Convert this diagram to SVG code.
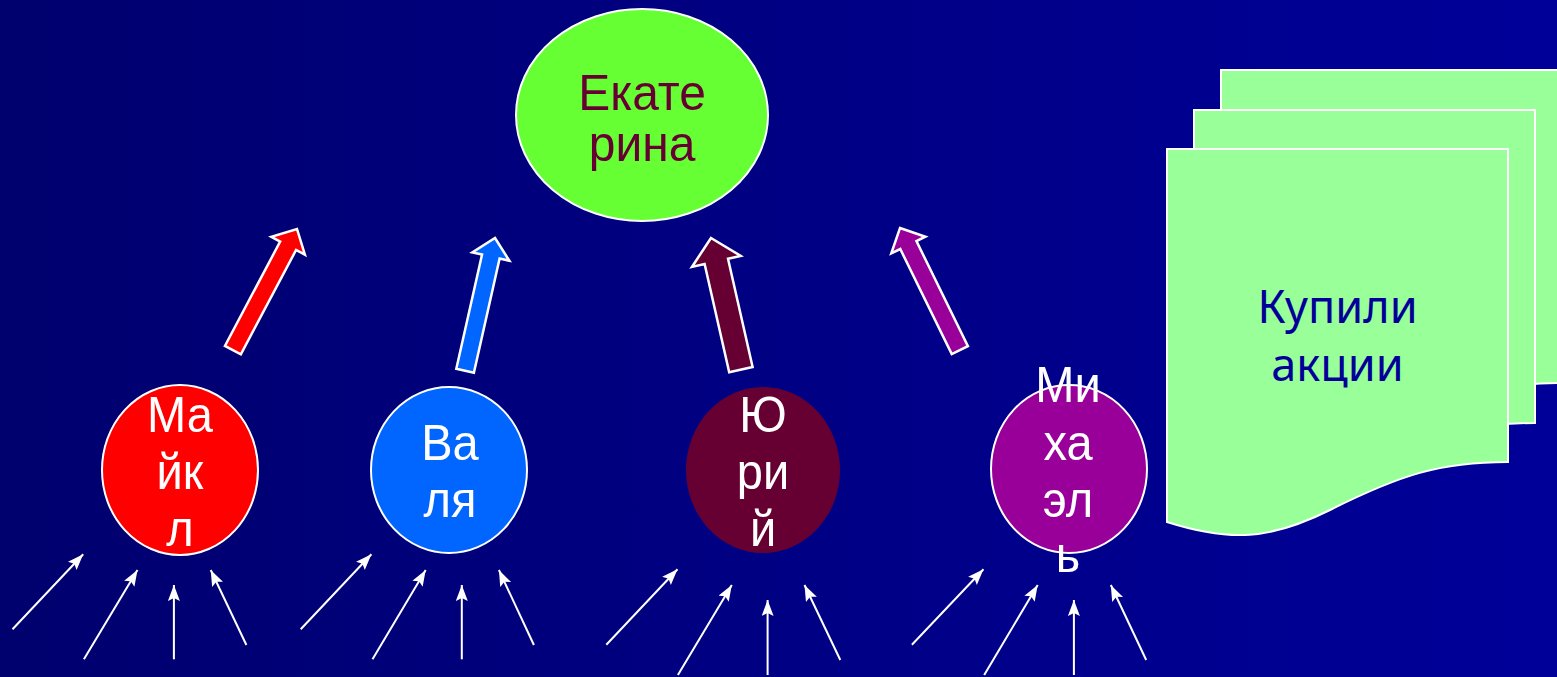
<svg xmlns="http://www.w3.org/2000/svg" width="1557" height="677" viewBox="0 0 1557 677">
<defs>
<linearGradient id="bg" x1="0" y1="0" x2="1" y2="0">
<stop offset="0" stop-color="#00006E"/>
<stop offset="1" stop-color="#000099"/>
</linearGradient>
<marker id="ah" markerUnits="userSpaceOnUse" markerWidth="18" markerHeight="14" refX="16" refY="6" orient="auto">
<path d="M0,0 L16,6 L0,12 L3,6 z" fill="#FFFFFF"/>
</marker>
<path id="doc" d="M1167,149 H1508 V462 C1440,462 1400,475 1330,510 C1270,540 1230,542 1167,522 Z"/>
</defs>
<style>
.lbl{font-family:"Liberation Sans",Arial,sans-serif;font-size:47px;text-anchor:middle}
.w{fill:#FFFFFF}
.blk{stroke:#FFFFFF;stroke-width:2.5;stroke-linejoin:miter}
.node{stroke:#FFFFFF;stroke-width:2}
.thin{stroke:#FFFFFF;stroke-width:2;fill:none;marker-end:url(#ah)}
.docs{fill:#99FF99;stroke:#FFFFFF;stroke-width:2}
</style>
<rect x="0" y="0" width="1557" height="677" fill="url(#bg)"/>

<g id="documents">
<use href="#doc" class="docs" transform="translate(54,-79)"/>
<use href="#doc" class="docs" transform="translate(27,-39)"/>
<use href="#doc" class="docs"/>
<text x="1337.5" y="323" font-family="'Noto Sans','DejaVu Sans',sans-serif" font-size="45" fill="#000099" text-anchor="middle">Купили</text>
<text x="1337.5" y="381" font-family="'Noto Sans','DejaVu Sans',sans-serif" font-size="45" fill="#000099" text-anchor="middle">акции</text>
</g>

<g id="ekaterina">
<ellipse cx="642" cy="115" rx="126" ry="106" fill="#66FF33" class="node"/>
<g fill="#660033" class="lbl">
<text transform="translate(642,110) scale(1.02,1.08)">Екате</text>
<text transform="translate(642,161) scale(1.02,1.08)">рина</text>
</g>
</g>

<g id="maikl">
<ellipse cx="180" cy="470" rx="78" ry="85" fill="#FF0000" class="node"/>
<g class="lbl w">
<text transform="translate(180,432) scale(1,1.08)">Ма</text>
<text transform="translate(180,489) scale(1,1.08)">йк</text>
<text transform="translate(180,546) scale(1,1.08)">л</text>
</g>
</g>

<g id="valya">
<ellipse cx="449" cy="470" rx="78" ry="83" fill="#0066FF" class="node"/>
<g class="lbl w">
<text transform="translate(450,460) scale(1,1.08)">Ва</text>
<text transform="translate(450,517) scale(1,1.08)">ля</text>
</g>
</g>

<g id="yuriy">
<ellipse cx="763" cy="470" rx="77" ry="83" fill="#660033"/>
<g class="lbl w">
<text transform="translate(763,432) scale(1,1.08)">Ю</text>
<text transform="translate(763,489) scale(1,1.08)">ри</text>
<text transform="translate(763,546) scale(1,1.08)">й</text>
</g>
</g>

<g id="mikhael">
<ellipse cx="1069" cy="469" rx="78" ry="84" fill="#990099" class="node"/>
<g class="lbl w">
<text transform="translate(1068,402) scale(1,1.08)">Ми</text>
<text transform="translate(1068,460) scale(1,1.08)">ха</text>
<text transform="translate(1068,517) scale(1,1.08)">эл</text>
<text transform="translate(1068,572) scale(1,1.08)">ь</text>
</g>
</g>

<g id="connectors">
<polygon class="blk" fill="#FF0000" transform="translate(297,229) rotate(27.9)" points="0,0 19,19 9,19 9,137 -9,137 -9,19 -19,19"/>
<polygon class="blk" fill="#0066FF" transform="translate(495,238) rotate(12.7)" points="0,0 19,19 9,19 9,136 -9,136 -9,19 -19,19"/>
<polygon class="blk" fill="#660033" transform="translate(711,238) rotate(-12.8)" points="0,0 25,24 12,24 12,135 -12,135 -12,24 -25,24"/>
<polygon class="blk" fill="#990099" transform="translate(900,228) rotate(-26.1)" points="0,0 19,19 9,19 9,136 -9,136 -9,19 -19,19"/>

<line class="thin" x1="12.5" y1="629.3" x2="83.2" y2="554.3"/>
<line class="thin" x1="83.9" y1="659.3" x2="137.5" y2="570"/>
<line class="thin" x1="173.9" y1="659.3" x2="173.9" y2="585"/>
<line class="thin" x1="246.4" y1="645" x2="210.7" y2="570"/>

<line class="thin" x1="300.7" y1="629.3" x2="371.4" y2="554.3"/>
<line class="thin" x1="372.5" y1="659.3" x2="425.7" y2="570"/>
<line class="thin" x1="461.8" y1="659.3" x2="461.8" y2="585"/>
<line class="thin" x1="533.9" y1="645" x2="498.9" y2="570"/>

<line class="thin" x1="606.3" y1="644.7" x2="677.5" y2="569.3"/>
<line class="thin" x1="677.9" y1="675" x2="731.8" y2="585"/>
<line class="thin" x1="767.6" y1="675" x2="767.6" y2="600"/>
<line class="thin" x1="840.3" y1="660" x2="804.5" y2="585"/>

<line class="thin" x1="911.9" y1="644.7" x2="983.5" y2="569.3"/>
<line class="thin" x1="984.2" y1="675" x2="1037.7" y2="585"/>
<line class="thin" x1="1073.9" y1="675" x2="1073.9" y2="600"/>
<line class="thin" x1="1146.2" y1="660" x2="1110.8" y2="585"/>
</g>
</svg>
